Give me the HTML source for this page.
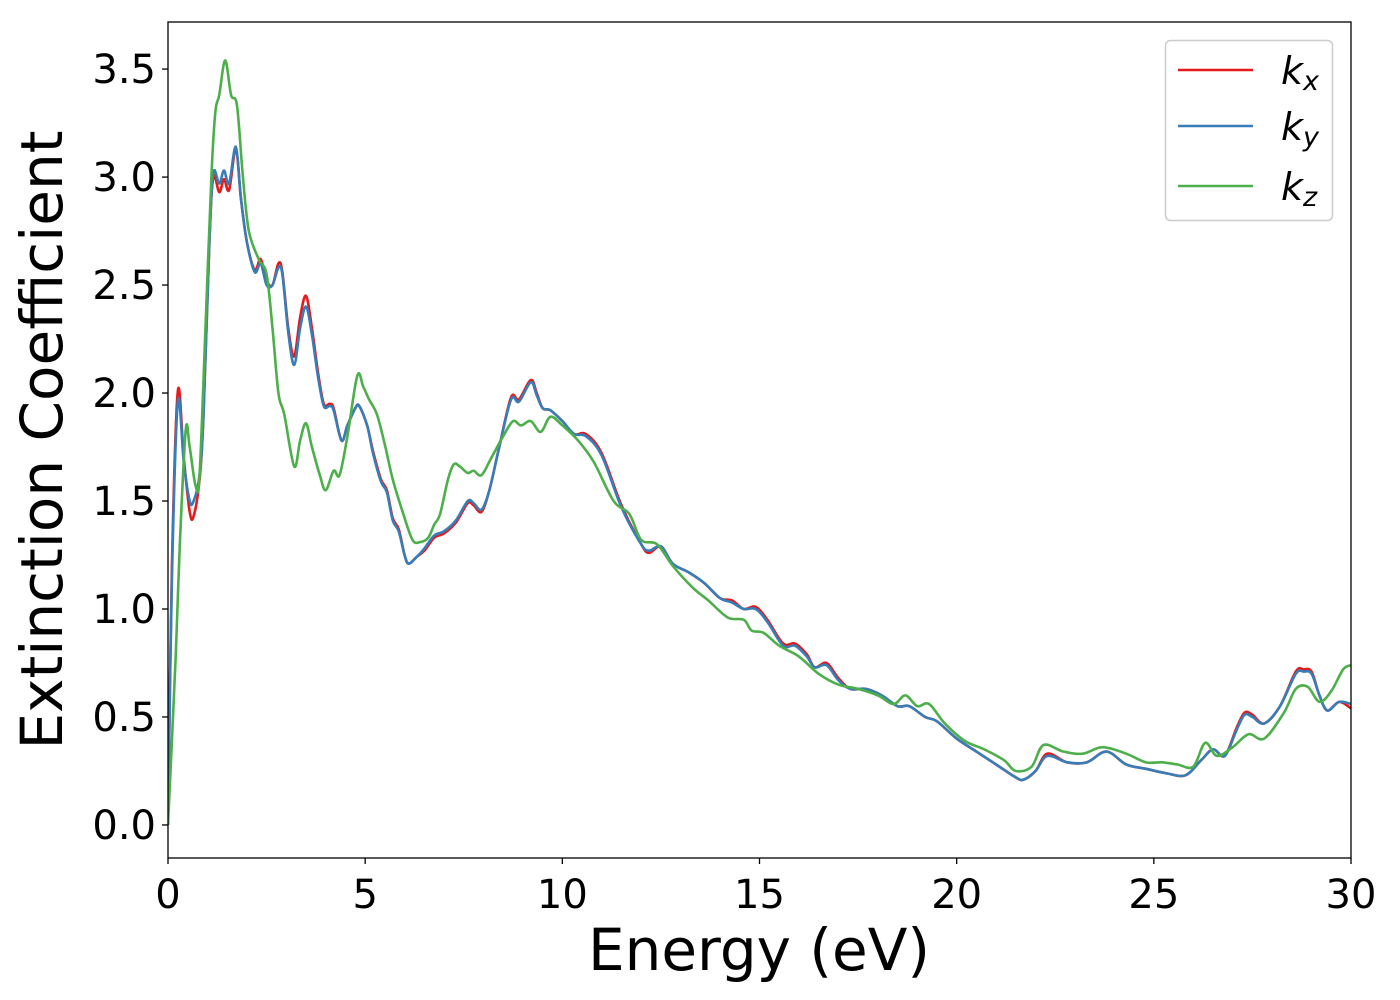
<!DOCTYPE html>
<html><head><meta charset="utf-8"><style>
html,body{margin:0;padding:0;background:#fff;width:1400px;height:1000px;overflow:hidden}
svg text{font-family:"DejaVu Sans","Liberation Sans",sans-serif;fill:#000}
</style></head><body>
<svg id="chart" width="1400" height="1000" xmlns="http://www.w3.org/2000/svg">
<g id="plot"></g>
<g id="axes"></g>
<text x="759" y="970" font-size="58" text-anchor="middle">Energy (eV)</text>
<text transform="translate(62,440) rotate(-90)" font-size="58" text-anchor="middle">Extinction Coefficient</text>
<g>
<rect x="1165.5" y="40.5" width="167" height="180" rx="5" fill="#fff" stroke="#ccc" stroke-width="1.5"/>
<line x1="1178" y1="70" x2="1253" y2="70" stroke="#e41a1c" stroke-width="2.5"/>
<line x1="1178" y1="126" x2="1253" y2="126" stroke="#377eb8" stroke-width="2.5"/>
<line x1="1178" y1="186" x2="1253" y2="186" stroke="#4daf4a" stroke-width="2.5"/>
<text x="1281" y="84" font-size="38" font-style="italic">k<tspan font-size="27" dy="6">x</tspan></text>
<text x="1281" y="140" font-size="38" font-style="italic">k<tspan font-size="27" dy="6">y</tspan></text>
<text x="1281" y="200" font-size="38" font-style="italic">k<tspan font-size="27" dy="6">z</tspan></text>
</g>
</svg>
<script>
const xTicks=[0,5,10,15,20,25,30];
const yTicks=[0.0,0.5,1.0,1.5,2.0,2.5,3.0,3.5];
const kxE=[0,0.1,0.25,0.4,0.55,0.65,0.8,0.9,1.05,1.15,1.3,1.42,1.55,1.72,1.85,2.0,2.2,2.35,2.5,2.65,2.8,2.9,3.05,3.2,3.35,3.5,3.65,3.8,3.95,4.1,4.2,4.4,4.55,4.75,4.85,5.05,5.2,5.4,5.55,5.7,5.85,6.0,6.1,6.3,6.5,6.75,7.0,7.3,7.6,7.75,7.95,8.15,8.4,8.7,8.9,9.2,9.35,9.5,9.7,10.0,10.3,10.6,11.0,11.5,12.0,12.2,12.5,12.8,13.2,13.6,14.0,14.3,14.6,14.9,15.2,15.6,15.9,16.2,16.4,16.7,17.0,17.3,17.7,18.1,18.5,18.8,19.2,19.5,20.0,20.5,21.0,21.5,21.7,22.0,22.3,22.8,23.3,23.8,24.3,24.8,25.3,25.8,26.2,26.5,26.8,27.1,27.3,27.5,27.8,28.2,28.6,28.8,29.0,29.2,29.4,29.7,30];
const kxV=[0,1.2,2.01,1.7,1.45,1.43,1.6,1.9,2.7,3.0,2.93,2.99,2.94,3.13,2.9,2.7,2.57,2.62,2.52,2.5,2.6,2.56,2.3,2.17,2.35,2.45,2.3,2.1,1.95,1.95,1.93,1.78,1.85,1.93,1.94,1.85,1.73,1.6,1.55,1.42,1.37,1.25,1.21,1.24,1.27,1.33,1.35,1.4,1.49,1.48,1.45,1.55,1.75,1.98,1.97,2.06,2.0,1.93,1.92,1.87,1.81,1.81,1.72,1.48,1.3,1.26,1.29,1.21,1.17,1.12,1.05,1.04,1.0,1.01,0.95,0.84,0.84,0.79,0.73,0.75,0.68,0.63,0.63,0.6,0.55,0.55,0.5,0.48,0.4,0.34,0.28,0.22,0.21,0.25,0.33,0.29,0.29,0.34,0.28,0.26,0.24,0.23,0.3,0.35,0.32,0.45,0.52,0.51,0.47,0.55,0.71,0.72,0.71,0.6,0.53,0.57,0.54];
const kyE=kxE.slice();
const kyV=[0,1.15,1.96,1.68,1.5,1.5,1.62,1.9,2.7,3.02,2.97,3.03,2.97,3.14,2.9,2.7,2.56,2.6,2.5,2.5,2.58,2.55,2.28,2.13,2.3,2.4,2.27,2.08,1.94,1.94,1.92,1.78,1.85,1.93,1.94,1.85,1.72,1.59,1.54,1.41,1.36,1.25,1.21,1.24,1.28,1.34,1.36,1.41,1.5,1.49,1.46,1.55,1.75,1.97,1.96,2.05,1.99,1.93,1.92,1.87,1.81,1.8,1.71,1.47,1.3,1.27,1.29,1.21,1.17,1.12,1.05,1.03,1.0,1.0,0.94,0.83,0.83,0.78,0.73,0.74,0.67,0.63,0.63,0.6,0.55,0.55,0.5,0.48,0.4,0.34,0.28,0.22,0.21,0.25,0.32,0.29,0.29,0.34,0.28,0.26,0.24,0.23,0.3,0.35,0.32,0.44,0.51,0.5,0.47,0.55,0.7,0.71,0.7,0.6,0.53,0.57,0.56];
const kzE=[0,0.2,0.3,0.45,0.55,0.7,0.8,0.95,1.1,1.2,1.3,1.45,1.6,1.75,1.9,2.05,2.3,2.5,2.65,2.8,2.95,3.2,3.35,3.5,3.65,3.85,4.0,4.2,4.35,4.55,4.8,4.95,5.1,5.3,5.5,5.7,5.95,6.2,6.4,6.6,6.75,6.9,7.1,7.25,7.4,7.6,7.75,7.95,8.2,8.5,8.75,8.95,9.2,9.45,9.7,10.0,10.4,10.8,11.3,11.7,12.0,12.4,12.8,13.3,13.7,14.2,14.6,14.8,15.1,15.5,16.0,16.5,17.0,17.5,18.0,18.4,18.7,19.0,19.3,19.7,20.2,20.7,21.2,21.5,21.9,22.2,22.7,23.2,23.7,24.3,24.8,25.2,25.6,26.0,26.3,26.6,27.0,27.4,27.8,28.3,28.6,28.9,29.2,29.5,29.8,30];
const kzV=[0,0.8,1.3,1.83,1.75,1.57,1.62,2.3,3.0,3.3,3.38,3.54,3.38,3.33,3.0,2.75,2.62,2.55,2.3,2.0,1.9,1.66,1.78,1.86,1.75,1.62,1.55,1.64,1.62,1.8,2.08,2.03,1.97,1.9,1.76,1.6,1.45,1.32,1.31,1.33,1.39,1.44,1.6,1.67,1.66,1.63,1.64,1.62,1.7,1.8,1.87,1.85,1.87,1.82,1.89,1.85,1.78,1.68,1.5,1.44,1.32,1.3,1.2,1.1,1.04,0.96,0.95,0.9,0.89,0.83,0.78,0.7,0.65,0.63,0.6,0.56,0.6,0.55,0.56,0.47,0.39,0.35,0.3,0.25,0.27,0.37,0.34,0.33,0.36,0.33,0.29,0.29,0.28,0.27,0.38,0.32,0.36,0.42,0.4,0.52,0.63,0.64,0.57,0.62,0.72,0.74];

const X0=168,X1=1351,Y0=22,Y1=858,xmin=0,xmax=30,ymin=-0.153,ymax=3.718;
const xs=v=>X0+(v-xmin)/(xmax-xmin)*(X1-X0);
const ys=v=>Y1-(v-ymin)/(ymax-ymin)*(Y1-Y0);
const NS='http://www.w3.org/2000/svg';
const plot=document.getElementById('plot'),axes=document.getElementById('axes');
function mk(t,a,p){const e=document.createElementNS(NS,t);for(const k in a)e.setAttribute(k,a[k]);p.appendChild(e);return e;}
function pathD(E,V){const p=E.map((e,i)=>[xs(e),ys(V[i])]);let d='M'+p[0][0]+','+p[0][1];
for(let i=0;i<p.length-1;i++){const a=p[Math.max(i-1,0)],b=p[i],c=p[i+1],n=p[Math.min(i+2,p.length-1)];
const c1=[b[0]+(c[0]-a[0])/6,b[1]+(c[1]-a[1])/6],c2=[c[0]-(n[0]-b[0])/6,c[1]-(n[1]-b[1])/6];
d+='C'+c1.join(',')+' '+c2.join(',')+' '+c.join(',');}return d;}
const cp=mk('clipPath',{id:'clip'},plot);mk('rect',{x:X0,y:Y0,width:X1-X0,height:Y1-Y0},cp);
const g=mk('g',{'clip-path':'url(#clip)'},plot);
const series=[[kxE,kxV,'#e41a1c','line-kx'],[kyE,kyV,'#377eb8','line-ky'],[kzE,kzV,'#4daf4a','line-kz']];
series.forEach(s=>{const el=mk('path',{d:pathD(s[0],s[1]),fill:'none',stroke:s[2],'stroke-width':2.6,'stroke-linejoin':'round'},g);

});
const fr=mk('rect',{x:X0,y:Y0,width:X1-X0,height:Y1-Y0,fill:'none',stroke:'#000','stroke-width':1.3},axes);


xTicks.forEach(t=>{const x=xs(t);
const tk=mk('line',{x1:x,y1:Y1,x2:x,y2:Y1+6,stroke:'#000','stroke-width':1.3},axes);


const tl=mk('text',{x:x,y:Y1+50,'font-size':40,'text-anchor':'middle'},axes);tl.textContent=t;

});
yTicks.forEach(t=>{const y=ys(t);
const tk=mk('line',{x1:X0-6,y1:y,x2:X0,y2:y,stroke:'#000','stroke-width':1.3},axes);


const tl=mk('text',{x:X0-12,y:y+14,'font-size':40,'text-anchor':'end'},axes);tl.textContent=t.toFixed(1);

});
</script>
</body></html>
